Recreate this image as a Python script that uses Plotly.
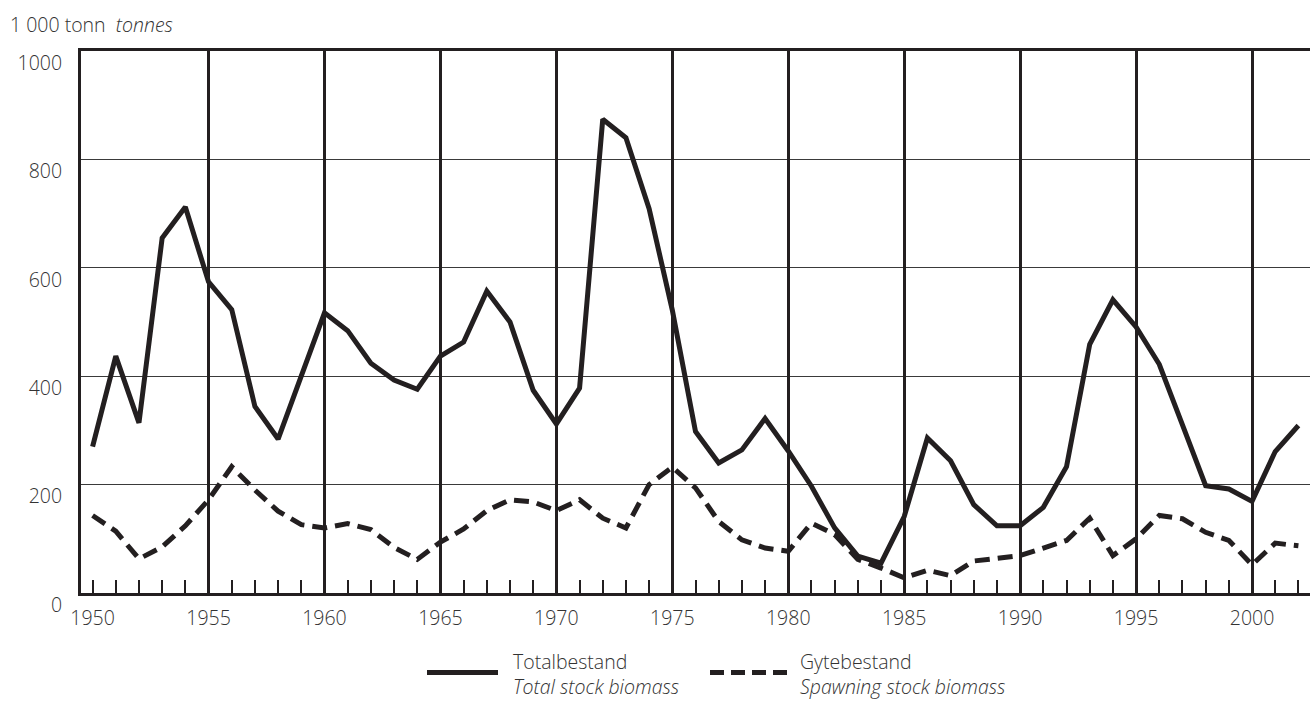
import plotly.graph_objects as go

years = list(range(1950, 2003))
total_biomass = [270, 437, 314, 655, 712, 574, 523, 344, 284, 399,
                 517, 484, 424, 393, 376, 437, 463, 557, 500, 374,
                 312, 378, 874, 840, 709, 522, 298, 240, 264, 322,
                 262, 197, 120, 68, 55, 141, 286, 244, 163, 124,
                 124, 158, 233, 459, 541, 491, 422, 310, 198, 192,
                 169, 261, 309]
spawning_biomass = [143, 114, 63, 85, 124, 172, 233, 190, 151, 126,
                    120, 128, 117, 84, 62, 94, 118, 152, 172, 168,
                    152, 172, 138, 120, 200, 232, 194, 132, 98, 83,
                    77, 129, 108, 62, 46, 28, 42, 32, 59, 65,
                    69, 83, 97, 138, 69, 100, 143, 137, 112, 97,
                    52, 92, 87]
label_years = list(range(1950, 2001, 5))
grid_years = list(range(1955, 2001, 5))
y_ticks = [0, 200, 400, 600, 800, 1000]

INK = "#231f20"
TXT = "#333333"
FONT = "Open Sans"
FS = 19.5
FW = 300

W, H = 1310, 702
L, R, T, B = 81, 0, 51, 108.5
PW, PH = W - L - R, H - T - B

def px(x):
    return (x - L) / PW

def py(y):
    return (H - B - y) / PH

fig = go.Figure()
fig.add_trace(go.Scatter(x=years, y=total_biomass, mode="lines",
                         line=dict(color=INK, width=5), name="Totalbestand",
                         showlegend=False))
fig.add_trace(go.Scatter(x=years, y=spawning_biomass, mode="lines",
                         line=dict(color=INK, width=5, dash="15px,8px"),
                         name="Gytebestand", showlegend=False))

tf = dict(size=FS, color=TXT, family=FONT, weight=FW)

fig.update_layout(
    width=W, height=H,
    margin=dict(l=L, r=R, t=T, b=B),
    paper_bgcolor="white", plot_bgcolor="white",
    font=tf,
    xaxis=dict(range=[1949.5, 2002.5], tickmode="array", tickvals=label_years,
               ticks="inside", ticklen=13, tickwidth=2, tickcolor=INK,
               showgrid=False, zeroline=False, showline=True, linewidth=2.5,
               linecolor=INK, mirror=True, ticklabelstandoff=6,
               minor=dict(tickmode="array", tickvals=years, ticks="inside",
                          ticklen=13, tickwidth=2, tickcolor=INK, showgrid=False),
               tickfont=tf),
    xaxis2=dict(range=[1949.5, 2002.5], overlaying="x", anchor="y",
                tickmode="array", tickvals=grid_years, showticklabels=False,
                ticks="", showgrid=True, gridcolor=INK, gridwidth=2.5,
                zeroline=False, showline=False),
    yaxis=dict(range=[0, 1000], tickmode="array", tickvals=y_ticks,
               showgrid=True, gridcolor="#3a3a3a", gridwidth=1.4,
               zeroline=False, showline=True, linewidth=3, linecolor=INK,
               ticks="", ticklabelshift=12, ticklabelstandoff=12,
               tickfont=tf),
)

# dummy trace to make sure xaxis2 is rendered
fig.add_trace(go.Scatter(x=[1949.5], y=[-100], xaxis="x2", yaxis="y",
                         mode="markers", marker=dict(opacity=0),
                         showlegend=False, hoverinfo="skip"))

annotations = [
    dict(text="1 000 tonn  <i>tonnes</i>", xref="paper", yref="paper",
         x=px(8), y=py(24), xanchor="left", yanchor="middle",
         showarrow=False, font=tf),
    dict(text="Totalbestand<br><i>Total stock biomass</i>", xref="paper",
         yref="paper", x=px(511), y=py(674.5), xanchor="left", yanchor="middle",
         align="left", showarrow=False, font=tf),
    dict(text="Gytebestand<br><i>Spawning stock biomass</i>", xref="paper",
         yref="paper", x=px(798), y=py(674.5), xanchor="left", yanchor="middle",
         align="left", showarrow=False, font=tf),
]
shapes = [
    dict(type="line", xref="paper", yref="paper", x0=px(427), x1=px(498),
         y0=py(673), y1=py(673), line=dict(color=INK, width=5)),
    dict(type="line", xref="paper", yref="paper", x0=px(710), x1=px(787),
         y0=py(673), y1=py(673), line=dict(color=INK, width=5, dash="14px,7px")),
]
fig.update_layout(annotations=annotations, shapes=shapes)

fig.write_html("out.html", config={"displayModeBar": False},
               post_script="document.body.style.margin='0';document.body.style.padding='0';")
